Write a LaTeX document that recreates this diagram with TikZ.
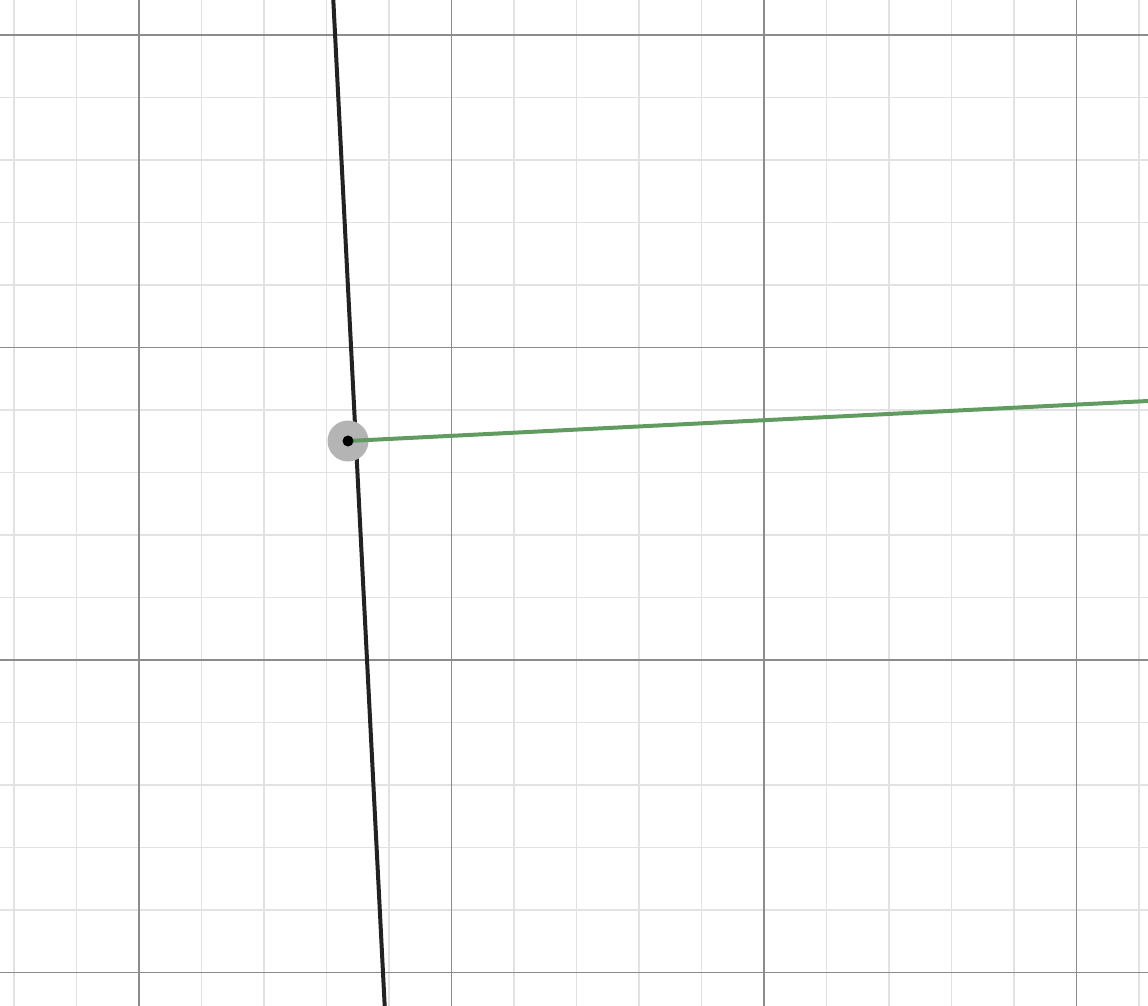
\documentclass[tikz,border=0pt]{standalone}
\definecolor{minorgrid}{RGB}{226,226,226}
\definecolor{majorgrid}{RGB}{140,140,140}
\definecolor{curveblack}{RGB}{34,34,34}
\definecolor{segreen}{RGB}{96,156,96}
\definecolor{halogray}{RGB}{180,180,180}
\tikzset{
  minorline/.style={draw=minorgrid, line width=1.6pt},
  majorline/.style={draw=majorgrid, line width=1.6pt},
  blackcurve/.style={draw=curveblack, line width=4pt},
  greenseg/.style={draw=segreen, line width=4pt},
}
\begin{document}
\begin{tikzpicture}[x=1pt,y=-1pt]
\useasboundingbox[fill=white] (0,0) rectangle (1148,1006);
% minor grid
\foreach \i in {-2,...,16} {
  \pgfmathsetmacro{\xx}{139+62.5*(\i)}
  \draw[minorline] (\xx,0) -- (\xx,1006);
}
\foreach \j in {-1,...,15} {
  \pgfmathsetmacro{\yy}{35+62.5*(\j)}
  \draw[minorline] (0,\yy) -- (1148,\yy);
}
% major grid
\foreach \xx in {139,451.5,764,1076.5} {
  \draw[majorline] (\xx,0) -- (\xx,1006);
}
\foreach \yy in {35,347.5,660,972.5} {
  \draw[majorline] (0,\yy) -- (1148,\yy);
}
% curves
\coordinate (ltop) at (333.2,-2);
\coordinate (lbot) at (384.8,1008);
\draw[blackcurve] (ltop) -- (lbot);
\node[circle, fill=halogray, minimum size=41pt, inner sep=0pt] (halo) at (348,441) {};
\coordinate (gend) at (1150,400.9);
\coordinate (p) at (348,441);
\draw[greenseg] (p) -- (gend);
\node[circle, fill=black, minimum size=11pt, inner sep=0pt] (pt) at (348,441) {};
\end{tikzpicture}
\end{document}
